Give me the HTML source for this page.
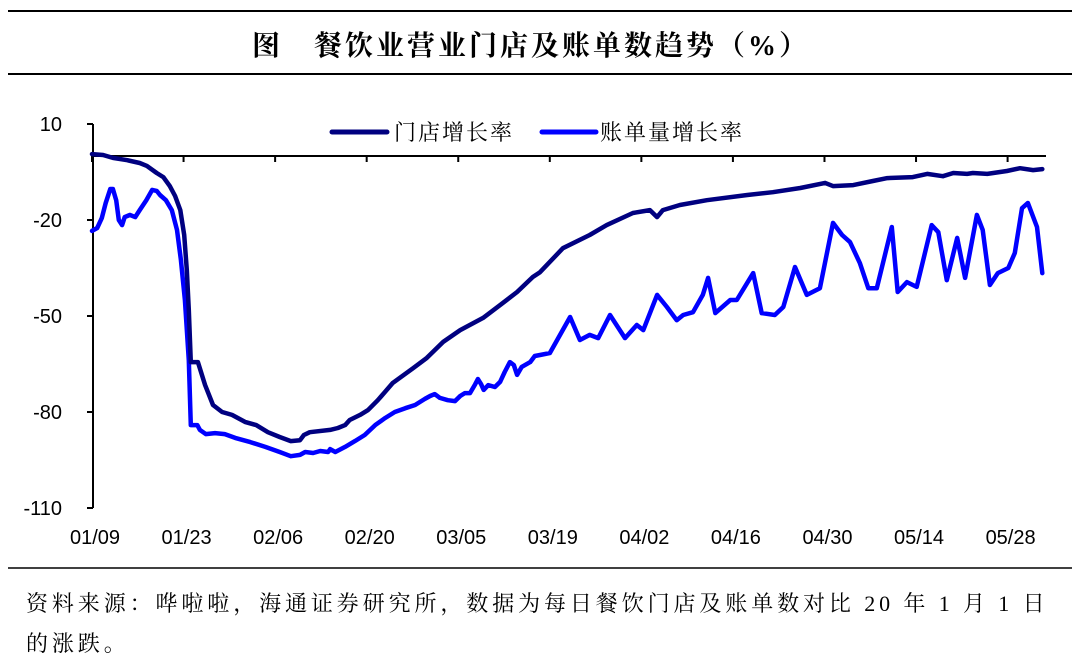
<!DOCTYPE html>
<html><head><meta charset="utf-8">
<style>
body{margin:0;background:#fff;width:1080px;height:661px;overflow:hidden;font-family:"Liberation Sans","Noto Sans CJK SC",sans-serif;}
svg{display:block}
</style></head>
<body>
<svg id="chart" width="1080" height="661" viewBox="0 0 1080 661">
<line x1="8" y1="11" x2="1072" y2="11" stroke="#000" stroke-width="2"/>
<text x="531" y="55" text-anchor="middle" font-size="28" letter-spacing="3" font-weight="bold" font-family="'Liberation Serif','Noto Serif CJK SC',serif">图　餐饮业营业门店及账单数趋势（%）</text>
<line x1="8" y1="74" x2="1072" y2="74" stroke="#000" stroke-width="2"/>
<line x1="8" y1="568" x2="1072" y2="568" stroke="#000" stroke-width="1.5"/>
<text x="26" y="611" font-size="22" letter-spacing="3.9" font-family="'Liberation Serif','Noto Serif CJK SC',serif">资料来源：哗啦啦，海通证券研究所，数据为每日餐饮门店及账单数对比 20 年 1 月 1 日</text>
<text x="26" y="651" font-size="22" letter-spacing="3.9" font-family="'Liberation Serif','Noto Serif CJK SC',serif">的涨跌。</text>
<g id="axes"></g>
<g id="series"></g>
<g>
<line x1="332" y1="132" x2="387" y2="132" stroke="#000080" stroke-width="5" stroke-linecap="round"/>
<text x="394" y="140" font-size="22" letter-spacing="2" font-family="'Liberation Serif','Noto Serif CJK SC',serif">门店增长率</text>
<line x1="542" y1="132" x2="596" y2="132" stroke="#0000ff" stroke-width="5" stroke-linecap="round"/>
<text x="600" y="140" font-size="22" letter-spacing="2" font-family="'Liberation Serif','Noto Serif CJK SC',serif">账单量增长率</text>
</g>
</svg>
<script>
const yTicks=[10,-20,-50,-80,-110];
const xTickLabels=["01/09","01/23","02/06","02/20","03/05","03/19","04/02","04/16","04/30","05/14","05/28"];
const xTickDays=[0,14,28,42,56,70,84,98,112,126,140];
const storeDays=[0,1.7,3.2,5.4,7.3,8.4,9.9,10.9,11.9,12.7,13.5,14.1,14.5,14.8,15.1,16.2,17.3,18.5,19.9,21.4,23.4,25.1,26.9,28.7,30.4,31.8,32.4,33.3,36.4,37.6,38.7,39.4,41,42.2,43.7,46,49.1,51.2,53.7,56.3,59.8,62.4,65,67.4,68.5,72,76.1,78.7,82.7,85.3,86.4,87.3,89.9,94,100.2,104.1,108.3,112.1,113.3,116.4,119.4,121.6,125.5,127.7,130.1,131.7,133.8,134.7,136.9,139.9,141.9,143.9,145.3];
const storeVals=[0.6,0.3,-0.6,-1.3,-2.2,-3.1,-5.3,-6.6,-9.4,-12.5,-16.9,-24.7,-35.6,-48.1,-64.4,-64.4,-71.6,-77.8,-80,-80.9,-83.1,-84.1,-86.3,-87.8,-89.1,-88.8,-87.2,-86.3,-85.6,-85,-84.1,-82.5,-80.9,-79.4,-76.3,-70.9,-66.3,-63.1,-58.1,-54.4,-50.6,-46.6,-42.5,-37.8,-36.3,-28.8,-24.7,-21.6,-17.8,-16.9,-19.1,-16.9,-15.3,-13.8,-12.2,-11.3,-10,-8.4,-9.4,-9.1,-7.8,-6.9,-6.6,-5.6,-6.3,-5.3,-5.6,-5.3,-5.6,-4.7,-3.8,-4.4,-4.1];
const billDays=[0,0.8,1.5,2.1,2.8,3.2,3.7,4.1,4.6,5,5.8,6.6,7.3,8.3,9.2,9.9,10.4,11.3,12.2,13,13.6,14.2,14.8,15.1,16.1,16.5,17.4,18.8,20.3,21.9,24.2,26.5,28.7,30.4,31.8,32.6,33.8,34.9,36.1,36.4,37.2,38.7,40.2,41.7,43.3,44.8,46.3,47.9,49.4,50.9,51.7,52.4,53.2,54.4,55.5,56.3,57,57.8,58.6,59,59.5,59.9,60.6,61.6,62.4,63.1,63.9,64.5,65,65.7,67,67.7,68.5,70,73.1,74.6,76.1,77.4,79.2,81.5,83.3,84.3,86.4,87.9,89.4,90.4,91.9,93.4,94.2,95.3,97.6,98.6,101.1,102.4,104.4,105.7,107.5,109.3,111.3,113.3,114.7,115.9,117.4,118.7,120,122.3,123.2,124.6,126.1,128.4,129.4,130.7,132.3,133.5,135.3,136.2,137.3,138.5,140.1,141.1,142.2,143.1,144.5,145.3];
const billVals=[-23.4,-22.5,-19.4,-14.7,-10.3,-10.3,-13.8,-20,-21.6,-19.1,-18.4,-19.1,-16.9,-13.8,-10.6,-10.9,-12.2,-13.8,-16.9,-23.1,-32.5,-45,-63.8,-84.1,-84.1,-85.6,-86.9,-86.6,-86.9,-88.1,-89.4,-90.9,-92.5,-93.8,-93.4,-92.5,-92.8,-92.2,-92.5,-91.6,-92.5,-90.9,-89.1,-87.2,-84.1,-81.9,-80,-78.8,-77.8,-75.9,-75,-74.4,-75.6,-76.3,-76.6,-75,-74.1,-74.1,-71.3,-69.7,-71.3,-73.1,-71.6,-72.2,-70.6,-67.5,-64.4,-65.3,-68.4,-65.9,-64.4,-62.5,-62.2,-61.6,-50.3,-57.5,-55.9,-56.9,-49.7,-56.9,-52.8,-54.4,-43.4,-47.2,-51.3,-49.7,-48.8,-43.4,-38.1,-49.1,-45,-45,-36.6,-49.1,-49.7,-47.2,-34.7,-43.4,-41.3,-20.9,-24.7,-26.9,-33.4,-41.3,-41.3,-22.2,-42.5,-39.4,-40.9,-21.6,-23.8,-38.8,-25.6,-38.1,-18.4,-23.1,-40.3,-36.6,-35,-30.3,-16.3,-14.7,-22.2,-36.6];

const NS="http://www.w3.org/2000/svg";
function xS(d){return 92+6.54*d;}
function yS(v){return 156-3.2*(v);}
function mk(tag,attrs,parent){const e=document.createElementNS(NS,tag);for(const k in attrs)e.setAttribute(k,attrs[k]);parent.appendChild(e);return e;}
const axes=document.getElementById('axes');
const yAxis=mk('line',{x1:93,y1:yS(10),x2:93,y2:yS(-110),stroke:'#000','stroke-width':2},axes);


yTicks.forEach(v=>{
  const t=mk('line',{x1:87,y1:yS(v),x2:93,y2:yS(v),stroke:'#000','stroke-width':2},axes);
  
  
  const l=mk('text',{x:62,y:yS(v)+7,'text-anchor':'end','font-size':20},axes);
  
  
  l.textContent=v;
});
const xAxis=mk('line',{x1:92,y1:yS(0),x2:1046,y2:yS(0),stroke:'#000','stroke-width':2},axes);


xTickDays.forEach((d,i)=>{
  const t=mk('line',{x1:xS(d),y1:yS(0),x2:xS(d),y2:yS(0)+6,stroke:'#000','stroke-width':2},axes);
  
  
  const l=mk('text',{x:xS(d)+3,y:544,'text-anchor':'middle','font-size':20},axes);
  
  
  l.textContent=xTickLabels[i];
});
const series=document.getElementById('series');
function pathOf(ds,vs){return ds.map((d,i)=>(i?'L':'M')+xS(d).toFixed(1)+','+yS(vs[i]).toFixed(1)).join(' ');}
const p1=mk('path',{d:pathOf(billDays,billVals),fill:'none',stroke:'#0000ff','stroke-width':4.5,'stroke-linejoin':'round','stroke-linecap':'round'},series);


const p2=mk('path',{d:pathOf(storeDays,storeVals),fill:'none',stroke:'#000080','stroke-width':4.5,'stroke-linejoin':'round','stroke-linecap':'round'},series);


</script>
</body></html>
